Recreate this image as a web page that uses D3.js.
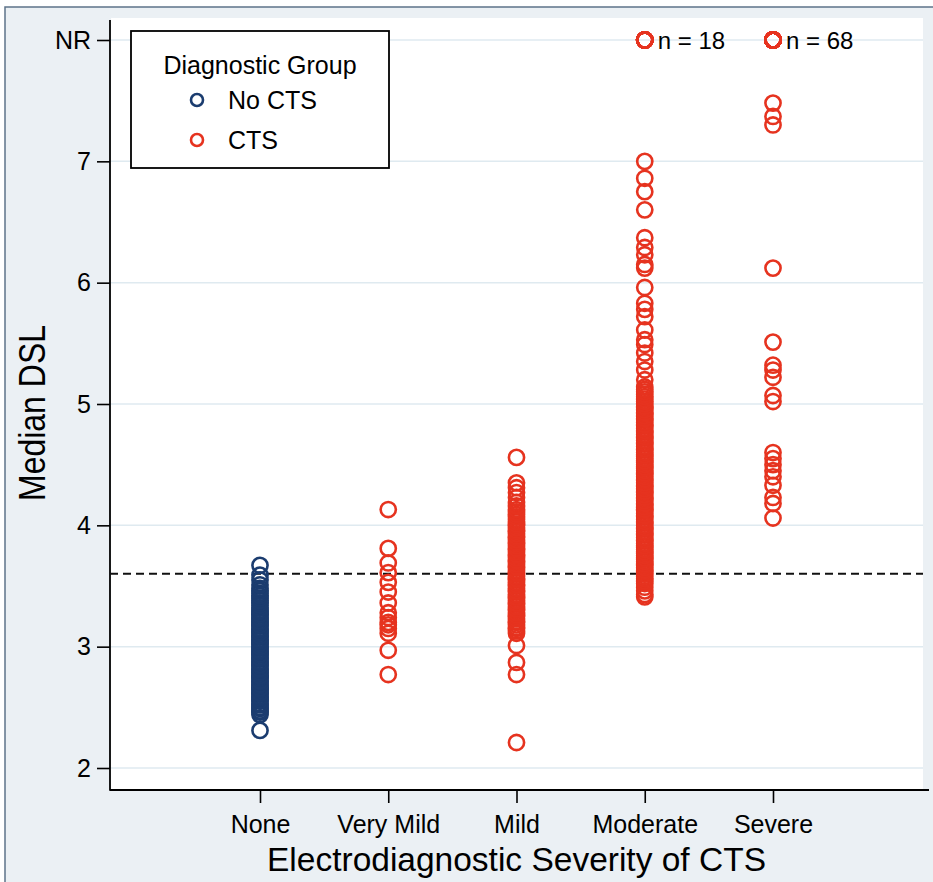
<!DOCTYPE html>
<html>
<head>
<meta charset="utf-8">
<script src="https://cdn.jsdelivr.net/npm/d3@7/dist/d3.min.js"></script>
<style>
  html, body { margin: 0; padding: 0; background: #fff; }
  svg { display: block; font-family: "Liberation Sans", Arial, sans-serif; }
</style>
</head>
<body>
<svg id="chart"></svg>
<script>
const WIDTH = 933;
const HEIGHT = 882;

const severityLabels = ["None", "Very Mild", "Mild", "Moderate", "Severe"];
const groupLabels = ["No CTS", "CTS"];
const yTicks = [2, 3, 4, 5, 6, 7, 8];
const nrValue = 8;
const dslCutoff = 3.6;

const noneValues = [2.31, 2.44, 2.46, 2.47, 2.49, 2.5, 2.52, 2.53, 2.55, 2.56, 2.58, 2.59, 2.61, 2.62,
  2.64, 2.65, 2.66, 2.68, 2.69, 2.71, 2.72, 2.74, 2.75, 2.76, 2.78, 2.79, 2.81, 2.82, 2.84, 2.85, 2.87,
  2.88, 2.9, 2.91, 2.93, 2.94, 2.96, 2.97, 2.99, 3.0, 3.02, 3.03, 3.05, 3.06, 3.08, 3.09, 3.11, 3.12,
  3.14, 3.15, 3.17, 3.18, 3.2, 3.21, 3.23, 3.24, 3.26, 3.27, 3.29, 3.3, 3.32, 3.34, 3.36, 3.38, 3.4,
  3.42, 3.44, 3.46, 3.48, 3.51, 3.55, 3.59, 3.67];
const veryMildValues = [2.77, 2.97, 3.11, 3.15, 3.18, 3.2, 3.24, 3.28, 3.36, 3.45, 3.53, 3.61, 3.69, 3.81, 4.13];
const mildValues = [2.21, 2.77, 2.87, 3.01, 3.11, 3.13, 3.15, 3.16, 3.18, 3.2, 3.21, 3.23, 3.25, 3.26,
  3.28, 3.3, 3.31, 3.33, 3.35, 3.36, 3.38, 3.4, 3.41, 3.43, 3.45, 3.46, 3.48, 3.5, 3.51, 3.53, 3.55,
  3.56, 3.58, 3.6, 3.61, 3.63, 3.65, 3.66, 3.68, 3.7, 3.71, 3.73, 3.75, 3.76, 3.78, 3.8, 3.81, 3.83,
  3.85, 3.86, 3.88, 3.9, 3.91, 3.93, 3.95, 3.96, 3.98, 4.0, 4.01, 4.03, 4.05, 4.07, 4.09, 4.11, 4.13,
  4.16, 4.19, 4.23, 4.27, 4.31, 4.35, 4.56];
const moderateValues = [3.41, 3.43, 3.46, 3.49, 3.52, 3.54, 3.56, 3.58, 3.6, 3.62, 3.63, 3.65, 3.67,
  3.68, 3.7, 3.72, 3.73, 3.75, 3.77, 3.78, 3.8, 3.82, 3.83, 3.85, 3.87, 3.88, 3.9, 3.92, 3.93, 3.95,
  3.97, 3.98, 4.0, 4.02, 4.03, 4.05, 4.07, 4.08, 4.1, 4.12, 4.13, 4.15, 4.17, 4.18, 4.2, 4.22, 4.23,
  4.25, 4.27, 4.28, 4.3, 4.32, 4.33, 4.35, 4.37, 4.38, 4.4, 4.42, 4.43, 4.45, 4.47, 4.48, 4.5, 4.52,
  4.53, 4.55, 4.57, 4.58, 4.6, 4.62, 4.63, 4.65, 4.67, 4.68, 4.7, 4.72, 4.73, 4.75, 4.77, 4.78, 4.8,
  4.82, 4.83, 4.85, 4.87, 4.88, 4.9, 4.92, 4.93, 4.95, 4.97, 4.98, 5.0, 5.02, 5.04, 5.06, 5.08, 5.1,
  5.12, 5.14, 5.2, 5.28, 5.35, 5.42, 5.49, 5.53, 5.61, 5.72, 5.78, 5.83, 5.96, 6.12, 6.15, 6.23, 6.29,
  6.37, 6.6, 6.75, 6.86, 7.0];
const severeValues = [4.06, 4.18, 4.23, 4.33, 4.4, 4.45, 4.5, 4.55, 4.6, 5.02, 5.07, 5.22, 5.28,
  5.32, 5.51, 6.12, 7.3, 7.37, 7.48];
// count of patients who did not respond (plotted at NR)
const nrCounts = [0, 0, 0, 18, 68];

const BLUE = "#1b3c6f";
const RED = "#e6331f";
const INK = "#000";

const svg = d3.select("#chart").attr("width", WIDTH).attr("height", HEIGHT);

// outer frame and plot region
svg.append("rect").attr("x", 0).attr("y", 0).attr("width", WIDTH).attr("height", HEIGHT).attr("fill", "#fff");
svg.append("rect")
  .attr("x", 5).attr("y", 7).attr("width", WIDTH + 20).attr("height", HEIGHT + 20)
  .attr("fill", "#ebf0f4").attr("stroke", "#5d7389").attr("stroke-width", 1.5);
svg.append("rect")
  .attr("x", 111).attr("y", 18).attr("width", 812).attr("height", 772)
  .attr("fill", "#fff");

const x = d3.scaleLinear().domain([0, 4]).range([260, 773]);
const y = d3.scaleLinear().domain([2, 8]).range([768, 40]);
const X0 = 110, X1 = 923, AXIS_Y = 790;

// grid
svg.append("g")
  .selectAll("line")
  .data(yTicks)
  .join("line")
  .attr("x1", X0).attr("x2", X1)
  .attr("y1", (d) => y(d)).attr("y2", (d) => y(d))
  .attr("stroke", "#dfeaf0").attr("stroke-width", 1.5);

// y axis
const yAxis = svg.append("g")
  .attr("transform", `translate(${X0},0)`)
  .call(d3.axisLeft(y).tickValues(yTicks).tickSize(13).tickPadding(6)
    .tickFormat((d) => (d === nrValue ? "NR" : d)));
yAxis.select(".domain").remove();
yAxis.selectAll(".tick line").attr("stroke", INK).attr("stroke-width", 1.6);
yAxis.selectAll(".tick text").attr("font-size", 25).attr("fill", INK)
  .attr("font-family", "Liberation Sans, Arial, sans-serif");
svg.append("line").attr("x1", X0).attr("x2", X0).attr("y1", 20).attr("y2", AXIS_Y + 0.75)
  .attr("stroke", INK).attr("stroke-width", 1.8);

// x axis
const xAxis = svg.append("g")
  .attr("transform", `translate(0,${AXIS_Y})`)
  .call(d3.axisBottom(x).tickValues(d3.range(severityLabels.length)).tickSize(13).tickPadding(12)
    .tickFormat((i) => severityLabels[i]));
xAxis.select(".domain").remove();
xAxis.selectAll(".tick line").attr("stroke", INK).attr("stroke-width", 1.6);
xAxis.selectAll(".tick text").attr("font-size", 25).attr("fill", INK)
  .attr("font-family", "Liberation Sans, Arial, sans-serif");
svg.append("line").attr("x1", X0).attr("x2", X1 + 6).attr("y1", AXIS_Y).attr("y2", AXIS_Y)
  .attr("stroke", INK).attr("stroke-width", 1.8);

// axis titles
svg.append("text")
  .attr("x", (X0 + X1) / 2).attr("y", 871)
  .attr("text-anchor", "middle")
  .attr("font-size", 33.5).attr("fill", INK)
  .text("Electrodiagnostic Severity of CTS");
svg.append("text")
  .attr("transform", `translate(45,413) rotate(-90) scale(1,1.18)`)
  .attr("text-anchor", "middle")
  .attr("font-size", 32).attr("fill", INK)
  .text("Median DSL");

// cutoff
svg.append("line")
  .attr("x1", X0).attr("x2", X1)
  .attr("y1", y(dslCutoff)).attr("y2", y(dslCutoff))
  .attr("stroke", "#111").attr("stroke-width", 2).attr("stroke-dasharray", "8,5");

// points
const columns = [noneValues, veryMildValues, mildValues, moderateValues, severeValues];
const points = [];
columns.forEach((vals, i) => {
  vals.forEach((v) => points.push({ i, v }));
  for (let k = 0; k < nrCounts[i]; k++) points.push({ i, v: nrValue });
});

svg.append("g")
  .attr("class", "points")
  .selectAll("circle")
  .data(points)
  .join("circle")
  .attr("cx", (d) => x(d.i))
  .attr("cy", (d) => y(d.v))
  .attr("r", 7.6)
  .attr("fill", "none")
  .attr("stroke", (d) => (d.i === 0 ? BLUE : RED))
  .attr("stroke-width", 2.6);

// NR annotations
svg.append("g")
  .selectAll("text")
  .data(nrCounts.map((n, i) => ({ n, i })).filter((d) => d.n > 0))
  .join("text")
  .attr("x", (d) => x(d.i) + 13)
  .attr("y", y(nrValue) + 9)
  .attr("font-size", 24).attr("fill", INK)
  .text((d) => `n = ${d.n}`);

// legend
const legend = svg.append("g").attr("transform", "translate(131,31)");
legend.append("rect").attr("width", 258).attr("height", 137)
  .attr("fill", "#fff").attr("stroke", INK).attr("stroke-width", 1.8);
legend.append("text").attr("x", 129).attr("y", 43).attr("text-anchor", "middle")
  .attr("font-size", 25).attr("fill", INK).text("Diagnostic Group");
legend.selectAll(".item")
  .data(groupLabels)
  .join((enter) => {
    const g = enter.append("g").attr("class", "item")
      .attr("transform", (_, i) => `translate(66, ${69 + i * 40})`);
    g.append("circle").attr("r", 6).attr("fill", "none")
      .attr("stroke", (_, i) => (i === 0 ? BLUE : RED)).attr("stroke-width", 2.6);
    g.append("text").attr("x", 31).attr("y", 9)
      .attr("font-size", 25).attr("fill", INK).text((d) => d);
    return g;
  });
</script>
</body>
</html>
